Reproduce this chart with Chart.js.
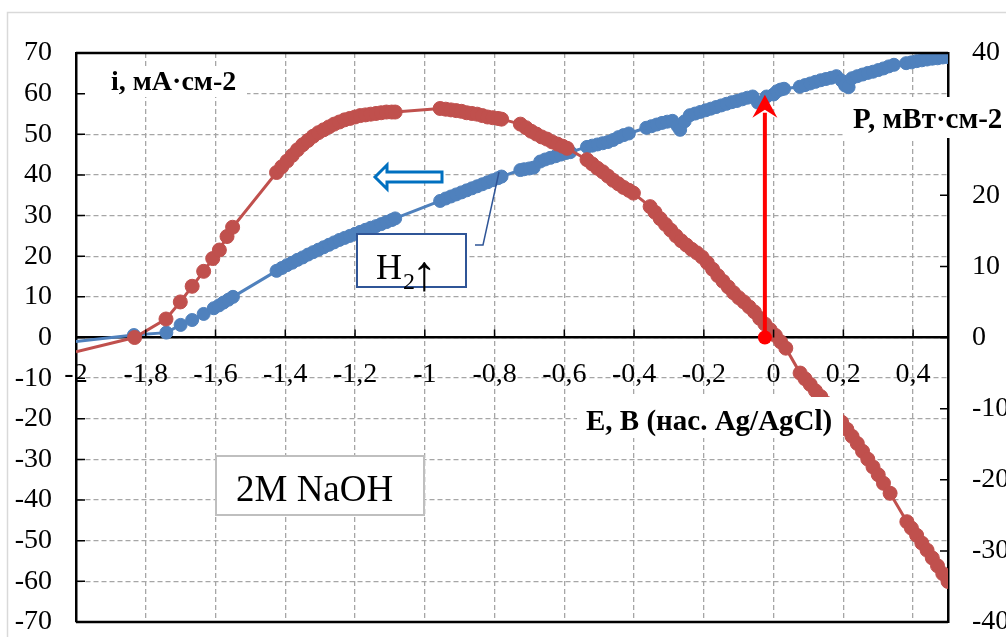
<!DOCTYPE html>
<html lang="ru">

<head>
    <meta charset="UTF-8">
    <title>i, P – E, 2M NaOH</title>
    <style>
        body {
            margin: 0;
            background-color: #ffffff;
        }

        #wrap {
            width: 1006px;
            height: 637px;
        }
    </style>
    <script src="https://cdn.jsdelivr.net/npm/chart.js"></script>
</head>

<body>
    <div id="wrap">
        <canvas id="chart_div" width="1006" height="637"></canvas>
    </div>

    <script>
        // blue series: current density i, mA/cm2 (left axis)
        const blueE = [
            -2.0, -1.834, -1.741, -1.70, -1.667, -1.634, -1.605, -1.590, -1.577, -1.563, -1.550,
            -1.425, -1.41, -1.395, -1.38, -1.365, -1.35, -1.335, -1.32, -1.305, -1.29, -1.275, -1.26,
            -1.245, -1.23, -1.215, -1.20, -1.185, -1.17, -1.155, -1.14, -1.125, -1.11, -1.095, -1.085,
            -0.956, -0.94, -0.925, -0.91, -0.895, -0.88, -0.865, -0.85, -0.835, -0.82, -0.805, -0.79, -0.78,
            -0.726, -0.715, -0.70, -0.688,
            -0.669, -0.655, -0.64, -0.625, -0.61, -0.595, -0.583,
            -0.535, -0.52, -0.505, -0.49, -0.475, -0.46, -0.445, -0.43, -0.415,
            -0.365, -0.35, -0.335, -0.32, -0.305, -0.29, -0.275, -0.268, -0.255, -0.24,
            -0.225, -0.21, -0.195, -0.18, -0.165, -0.15, -0.135, -0.12, -0.105, -0.09, -0.075, -0.06,
            -0.045, -0.035, -0.02, 0.0, 0.01, 0.02, 0.03,
            0.075, 0.09, 0.105, 0.12, 0.135, 0.15, 0.165, 0.18, 0.195, 0.205, 0.215, 0.225, 0.24,
            0.255, 0.27, 0.285, 0.30, 0.315, 0.33, 0.345,
            0.38, 0.395, 0.41, 0.425, 0.44, 0.455, 0.47, 0.485, 0.5
        ];
        const blueI = [
            -1.0, 0.6, 1.2, 3.1, 4.3, 5.8, 7.2, 7.9, 8.6, 9.3, 10.0,
            16.4, 17.1, 17.8, 18.4, 19.1, 19.7, 20.4, 21.0, 21.6, 22.2, 22.8, 23.4,
            24.0, 24.5, 25.0, 25.5, 26.0, 26.5, 27.0, 27.4, 27.9, 28.4, 28.9, 29.3,
            33.6, 34.2, 34.7, 35.2, 35.7, 36.2, 36.7, 37.2, 37.7, 38.2, 38.7, 39.2, 39.6,
            41.2, 41.4, 41.6, 41.8,
            43.3, 43.8, 44.2, 44.6, 45.0, 45.4, 45.6,
            46.9, 47.2, 47.5, 47.8, 48.1, 48.6, 49.3, 49.8, 50.2,
            51.6, 52.0, 52.4, 52.8, 53.1, 53.3, 52.0, 51.1, 53.2, 54.7,
            55.1, 55.5, 55.9, 56.3, 56.7, 57.1, 57.5, 57.9, 58.2, 58.6, 59.0, 59.3,
            57.8, 57.6, 59.3, 59.8, 60.6, 61.0, 61.2,
            61.7, 62.1, 62.5, 62.9, 63.3, 63.6, 63.9, 64.3, 63.2, 62.0, 61.6, 63.8, 64.3,
            64.7, 65.1, 65.4, 65.8, 66.2, 66.7, 67.1,
            67.5, 67.7, 68.0, 68.2, 68.4, 68.6, 68.7, 68.9, 69.0
        ];

        // red series: power density P, mW/cm2 (right axis)
        const redE = [
            -2.0, -1.832, -1.742, -1.701, -1.667, -1.634, -1.608, -1.589, -1.567, -1.551,
            -1.425, -1.41, -1.395, -1.38, -1.365, -1.35, -1.335, -1.32, -1.305, -1.29, -1.275, -1.26,
            -1.245, -1.23, -1.215, -1.20, -1.185, -1.17, -1.155, -1.14, -1.125, -1.11, -1.095, -1.085,
            -0.956, -0.94, -0.925, -0.91, -0.895, -0.88, -0.865, -0.85, -0.835, -0.82, -0.805, -0.79, -0.78,
            -0.726, -0.71, -0.695, -0.68, -0.665, -0.65, -0.635, -0.62, -0.605, -0.592,
            -0.535, -0.52, -0.505, -0.49, -0.475, -0.46, -0.445, -0.43, -0.415, -0.402,
            -0.354, -0.34, -0.325, -0.31, -0.295, -0.28, -0.265, -0.25, -0.235, -0.22, -0.205,
            -0.19, -0.175, -0.16, -0.145, -0.13, -0.115, -0.10, -0.085, -0.07, -0.055, -0.04,
            -0.025, -0.01, 0.005, 0.02, 0.035,
            0.076, 0.09, 0.105, 0.12, 0.135, 0.15, 0.165, 0.18, 0.195, 0.21, 0.225, 0.24,
            0.255, 0.27, 0.285, 0.30, 0.315, 0.334,
            0.382, 0.395, 0.41, 0.425, 0.44, 0.455, 0.47, 0.485, 0.5
        ];
        const redP = [
            -2.0, 0.0, 2.6, 5.0, 7.2, 9.3, 11.1, 12.3, 14.2, 15.5,
            23.2, 24.0, 24.8, 25.6, 26.4, 27.1, 27.7, 28.3, 28.8, 29.2, 29.6, 30.0,
            30.3, 30.6, 30.8, 31.0, 31.2, 31.3, 31.4, 31.5, 31.6, 31.7, 31.7, 31.7,
            32.2, 32.1, 32.0, 31.9, 31.8, 31.6, 31.5, 31.4, 31.2, 31.0, 30.9, 30.8, 30.7,
            30.0, 29.5, 29.0, 28.6, 28.2, 27.9, 27.5, 27.2, 26.9, 26.6,
            25.0, 24.4, 23.8, 23.3, 22.7, 22.1, 21.6, 21.1, 20.7, 20.3,
            18.4, 17.6, 16.7, 15.9, 15.1, 14.3, 13.6, 13.0, 12.4, 11.9, 11.3,
            10.5, 9.6, 8.7, 7.9, 7.1, 6.3, 5.6, 5.0, 4.3, 3.6, 2.7,
            1.9, 1.1, 0.3, -0.6, -1.5,
            -5.0, -5.8, -6.6, -7.5, -8.3, -9.2, -10.1, -11.0, -11.9, -12.9, -13.9, -14.9,
            -16.0, -17.1, -18.2, -19.3, -20.5, -21.9,
            -25.9, -26.8, -27.8, -28.9, -29.9, -31.0, -32.1, -33.2, -34.3
        ];

        // open-circuit mark (red dot) and where the red arrow meets the blue curve
        const markE = -0.025;
        const markI = 59.7;

        const serif = '"Liberation Serif", "Times New Roman", serif';
        const fmt = v => String(Math.round(v * 10) / 10).replace('.', ',');

        const decor = {
            id: 'decor',
            beforeDraw(chart) {
                const ctx = chart.ctx;
                ctx.save();
                ctx.fillStyle = '#fff';
                ctx.fillRect(0, 0, chart.width, chart.height);
                ctx.strokeStyle = '#d9d9d9';
                ctx.lineWidth = 1.5;
                ctx.strokeRect(7.5, 12.5, 1010, 700);
                ctx.restore();
            },
            afterDatasetsDraw(chart) {
                const ctx = chart.ctx;
                const { x, y } = chart.scales;
                const a = chart.chartArea;

                // red arrow from the dot up to the blue curve
                const ax = x.getPixelForValue(markE);
                const y0 = y.getPixelForValue(0);
                const yt = y.getPixelForValue(markI);
                ctx.save();
                ctx.strokeStyle = '#ff0000';
                ctx.fillStyle = '#ff0000';
                ctx.lineWidth = 4;
                ctx.beginPath();
                ctx.moveTo(ax, y0);
                ctx.lineTo(ax, yt + 18);
                ctx.stroke();
                ctx.beginPath();
                ctx.moveTo(ax, yt);
                ctx.lineTo(ax + 12.5, yt + 23);
                ctx.lineTo(ax, yt + 15);
                ctx.lineTo(ax - 12.5, yt + 23);
                ctx.closePath();
                ctx.fill();
                ctx.beginPath();
                ctx.arc(ax, y0, 7, 0, Math.PI * 2);
                ctx.fill();
                ctx.restore();

                // frame top / bottom
                ctx.save();
                ctx.strokeStyle = '#000';
                ctx.lineWidth = 2.5;
                ctx.beginPath();
                ctx.moveTo(a.left, a.top);
                ctx.lineTo(a.right, a.top);
                ctx.moveTo(a.left, a.bottom);
                ctx.lineTo(a.right, a.bottom);
                ctx.stroke();

                // inward tick marks
                ctx.lineWidth = 1.5;
                ctx.beginPath();
                y.ticks.forEach(t => {
                    const p = y.getPixelForValue(t.value);
                    ctx.moveTo(a.left, p);
                    ctx.lineTo(a.left + 9, p);
                });
                chart.scales.y1.ticks.forEach(t => {
                    const p = chart.scales.y1.getPixelForValue(t.value);
                    ctx.moveTo(a.right, p);
                    ctx.lineTo(a.right - 8, p);
                });
                x.ticks.forEach(t => {
                    const p = x.getPixelForValue(t.value);
                    ctx.moveTo(p, y0);
                    ctx.lineTo(p, y0 - 8);
                });
                ctx.stroke();
                ctx.restore();
            },
            afterDraw(chart) {
                const ctx = chart.ctx;
                ctx.save();

                // axis titles on white patches
                ctx.fillStyle = '#fff';
                ctx.fillRect(85, 68, 162, 29);
                ctx.fillRect(843, 97, 163, 41);
                ctx.fillRect(577, 397, 266, 41);
                ctx.fillStyle = '#000';
                ctx.textBaseline = 'alphabetic';
                ctx.font = 'bold 28px ' + serif;
                ctx.fillText('i, мА·см-2', 111, 90);
                ctx.font = 'bold 29px ' + serif;
                ctx.fillText('P, мВт·см-2', 853, 128);
                ctx.fillText('E, В (нас. Ag/AgCl)', 586, 430);

                // electrolyte box
                ctx.fillStyle = '#fff';
                ctx.fillRect(216, 456, 208, 59);
                ctx.strokeStyle = '#bfbfbf';
                ctx.lineWidth = 2;
                ctx.strokeRect(216, 456, 208, 59);
                ctx.fillStyle = '#000';
                ctx.font = '37px ' + serif;
                ctx.fillText('2M NaOH', 236, 501);

                // H2 callout
                ctx.strokeStyle = '#2f5597';
                ctx.lineWidth = 1.5;
                ctx.beginPath();
                ctx.moveTo(475, 245);
                ctx.lineTo(483, 245);
                ctx.lineTo(499, 172);
                ctx.stroke();
                ctx.fillStyle = '#fff';
                ctx.fillRect(357, 234, 109, 53);
                ctx.lineWidth = 2;
                ctx.strokeRect(357, 234, 109, 53);
                ctx.fillStyle = '#000';
                ctx.font = '36px ' + serif;
                ctx.fillText('H', 376, 279);
                ctx.font = '24px ' + serif;
                ctx.fillText('2', 403, 289);
                ctx.font = '50px ' + serif;
                ctx.fillText('↑', 412, 290);

                // hollow arrow pointing to the left axis
                ctx.strokeStyle = '#0070c0';
                ctx.fillStyle = '#fff';
                ctx.lineWidth = 3;
                ctx.beginPath();
                ctx.moveTo(375, 177);
                ctx.lineTo(387, 165);
                ctx.lineTo(387, 172);
                ctx.lineTo(442, 172);
                ctx.lineTo(442, 182);
                ctx.lineTo(387, 182);
                ctx.lineTo(387, 189);
                ctx.closePath();
                ctx.fill();
                ctx.stroke();
                ctx.restore();
            }
        };

        const toPts = (xs, ys) => xs.map((e, k) => ({ x: e, y: ys[k] }));
        const hideEdge = r => ctx => (ctx.raw && ctx.raw.x <= -2 ? 0 : r);
        // fixed axis widths, no extra label padding above/below the plot
        const fixWidth = w => s => {
            s.width = w;
            s.paddingTop = 0;
            s.paddingBottom = 0;
        };

        new Chart(document.getElementById('chart_div'), {
            type: 'scatter',
            data: {
                datasets: [{
                    label: 'P',
                    data: toPts(redE, redP),
                    yAxisID: 'y1',
                    showLine: true,
                    borderColor: '#c0504d',
                    backgroundColor: '#c0504d',
                    borderWidth: 3,
                    pointRadius: hideEdge(7),
                    pointBorderWidth: 1
                }, {
                    label: 'i',
                    data: toPts(blueE, blueI),
                    yAxisID: 'y',
                    showLine: true,
                    borderColor: '#4f81bd',
                    backgroundColor: '#4f81bd',
                    borderWidth: 3,
                    pointRadius: hideEdge(6.5),
                    pointBorderWidth: 1
                }]
            },
            options: {
                responsive: false,
                animation: false,
                layout: { padding: { top: 53, bottom: 15, left: 0, right: 0 } },
                plugins: {
                    legend: { display: false },
                    tooltip: { enabled: false }
                },
                scales: {
                    x: {
                        type: 'linear',
                        position: { y: 0 },
                        min: -2,
                        max: 0.5,
                        afterFit: s => { s.height = 0; },
                        grid: { color: '#a6a6a6', lineWidth: 1.3, drawTicks: false },
                        border: { display: true, color: '#000', width: 2.5, dash: [5, 3] },
                        ticks: {
                            stepSize: 0.2,
                            includeBounds: false,
                            padding: 20,
                            color: '#000',
                            font: { family: serif, size: 28 },
                            maxRotation: 0,
                            callback: v => fmt(v)
                        }
                    },
                    y: {
                        position: 'left',
                        min: -70,
                        max: 70,
                        afterFit: fixWidth(76),
                        grid: { color: '#a6a6a6', lineWidth: 1.3, drawTicks: false },
                        border: { display: true, color: '#000', width: 2.5, dash: [5, 3] },
                        ticks: {
                            stepSize: 10,
                            padding: 24,
                            color: '#000',
                            font: { family: serif, size: 28 },
                            callback: v => fmt(v)
                        }
                    },
                    y1: {
                        position: 'right',
                        min: -40,
                        max: 40,
                        afterFit: fixWidth(58),
                        grid: { display: false, drawTicks: false },
                        border: { display: true, color: '#000', width: 2.5 },
                        ticks: {
                            stepSize: 10,
                            padding: 24,
                            color: '#000',
                            font: { family: serif, size: 28 },
                            callback: v => fmt(v)
                        }
                    }
                }
            },
            plugins: [decor]
        });
    </script>
</body>

</html>
